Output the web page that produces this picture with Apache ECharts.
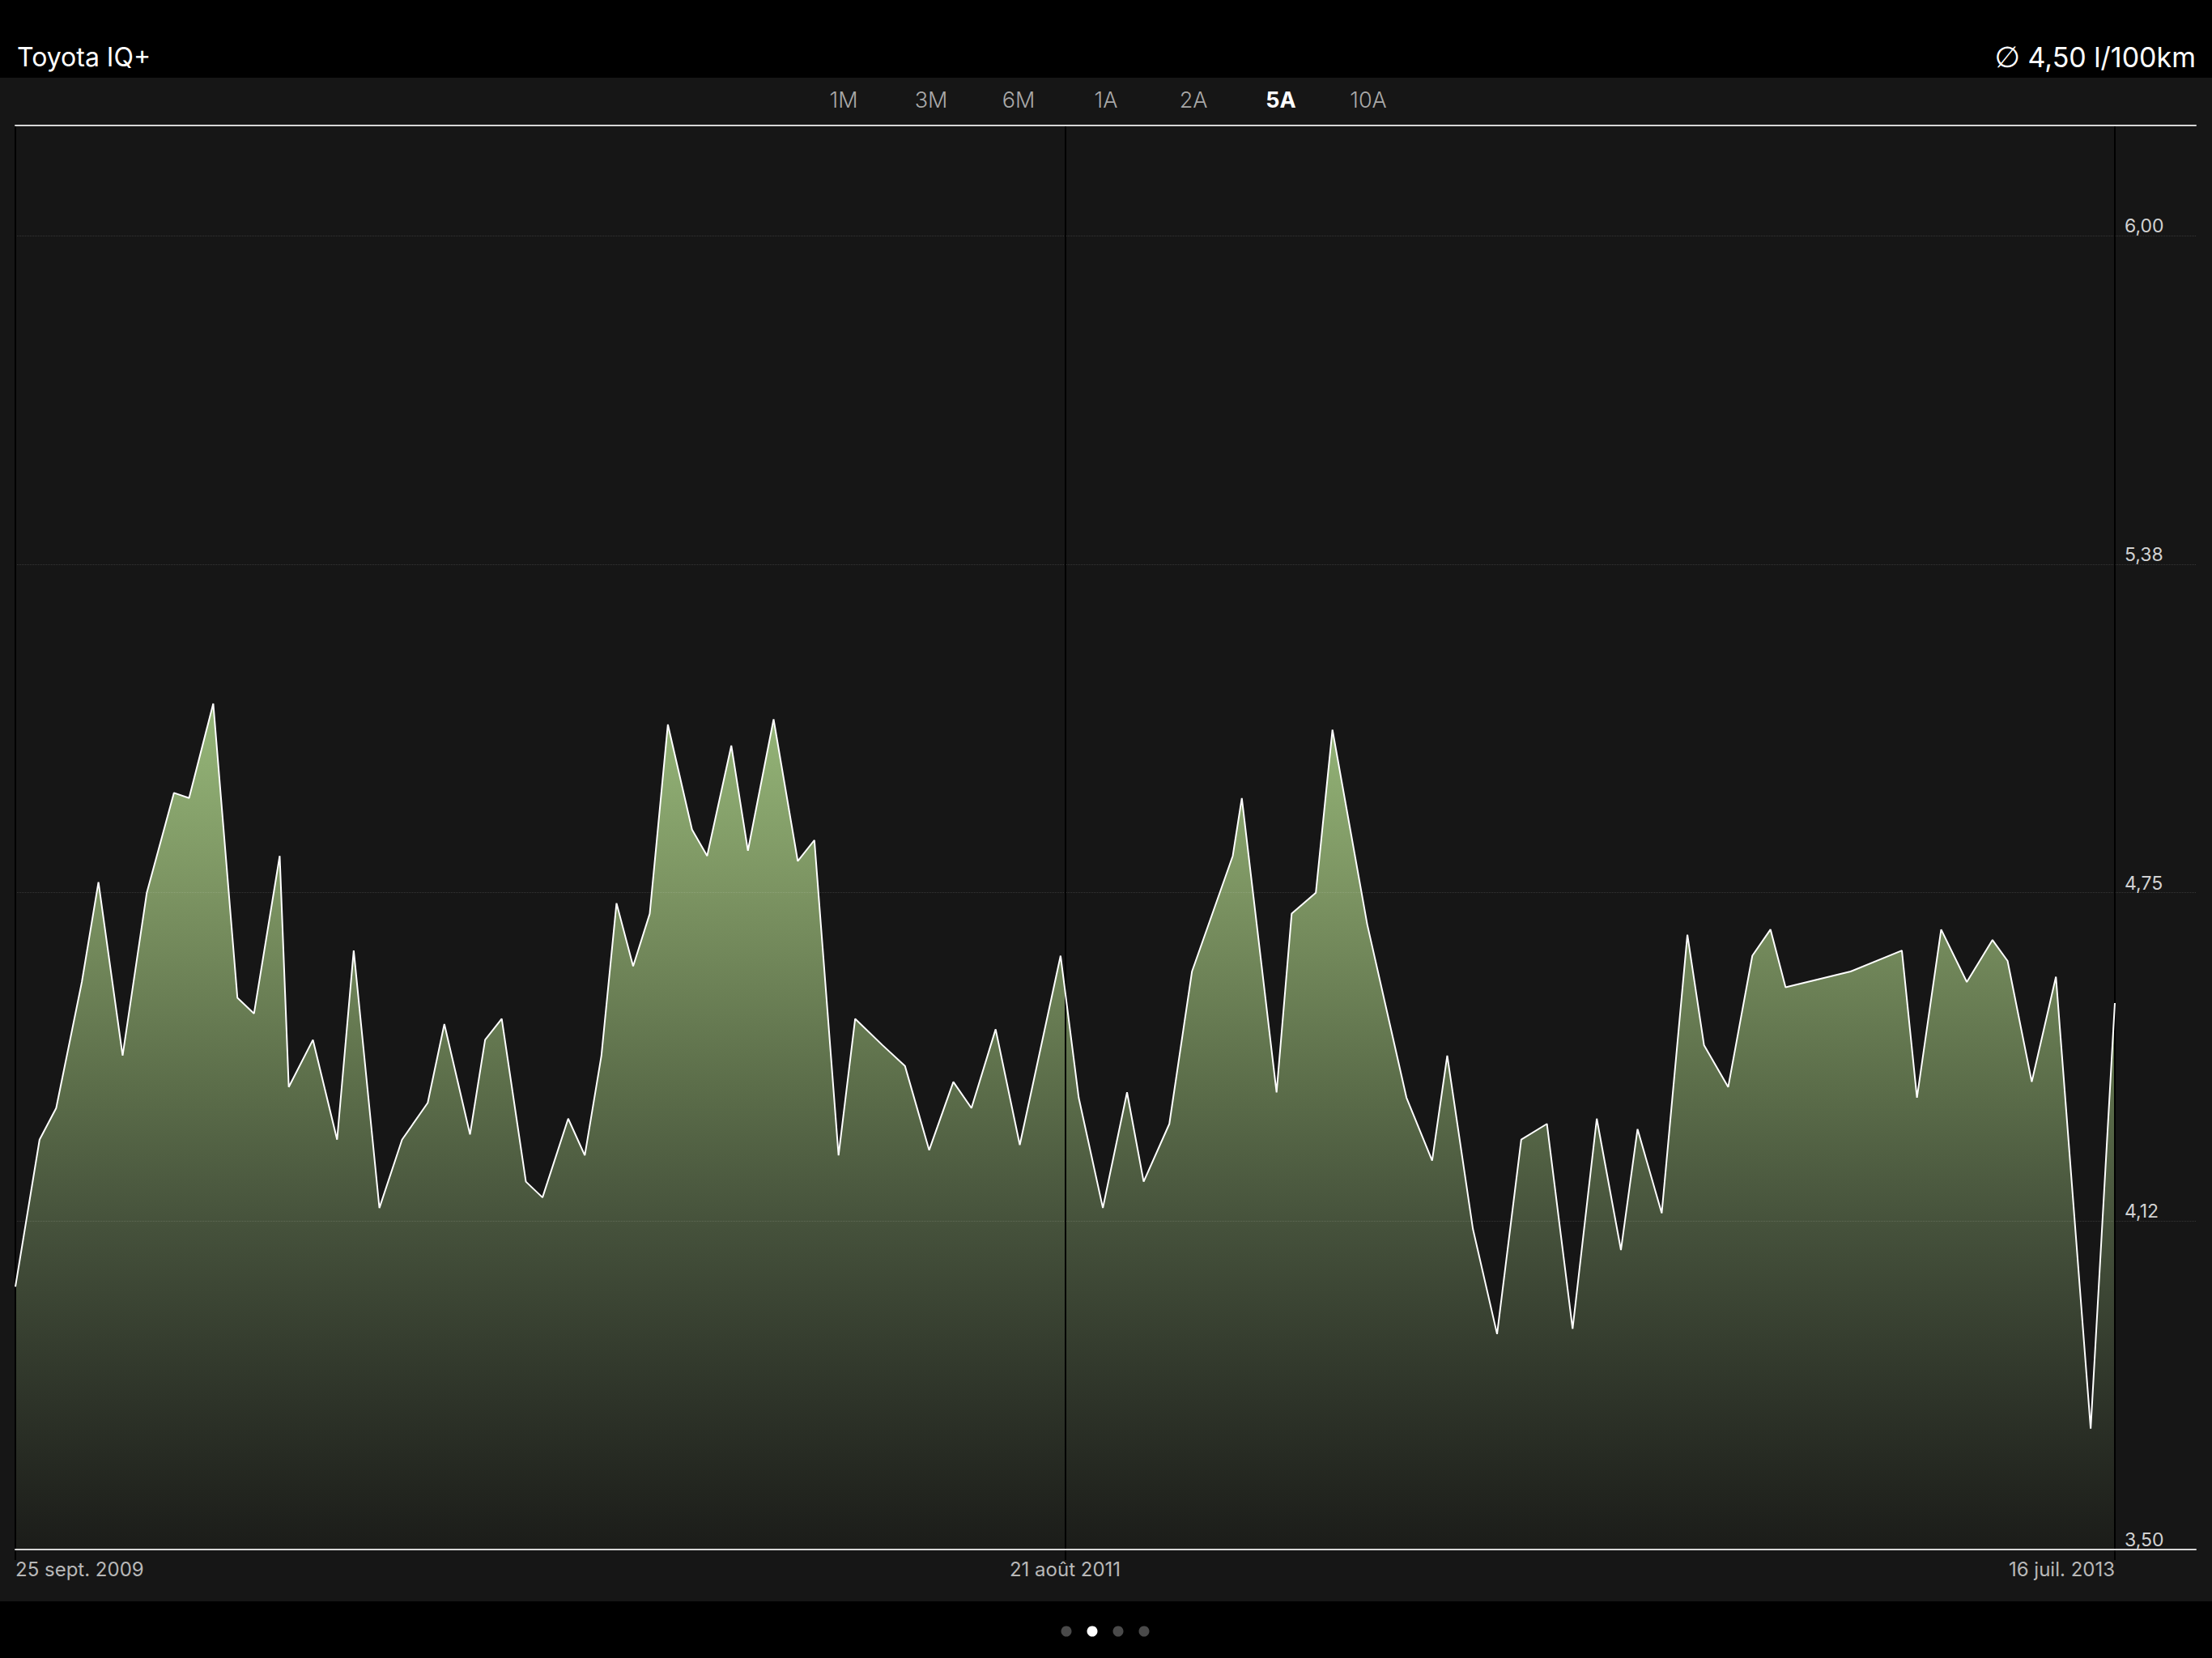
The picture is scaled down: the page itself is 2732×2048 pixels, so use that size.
<!DOCTYPE html>
<html>
<head>
<meta charset="utf-8">
<script src="https://cdn.jsdelivr.net/npm/echarts@6/dist/echarts.min.js"></script>
<style>
  html, body { margin: 0; padding: 0; background: #000; }
  #chart { width: 2732px; height: 2048px; }
</style>
</head>
<body>
<div id="chart"></div>
<script>
// ---- data ----
const title = 'Toyota IQ+';
const averageSymbol = '\u2205';
const averageText = '4,50 l/100km';
const periodTabs = ['1M', '3M', '6M', '1A', '2A', '5A', '10A'];
const activeTab = '5A';
// days since 25 sept. 2009
const dayOffsets = [0, 16, 27, 44, 55, 71, 87, 105, 115, 131, 147, 158, 175, 181, 197, 213, 224,
  241, 256, 273, 284, 301, 311, 322, 338, 349, 366, 377, 388, 398, 409, 420, 432, 448, 458,
  474, 485, 502, 518, 529, 545, 556, 574, 589, 605, 621, 633, 649, 665, 692, 704,
  720, 736, 747, 764, 779, 806, 812, 835, 845, 861, 872, 895, 921, 938,
  948, 965, 981, 997, 1014, 1031, 1047, 1063, 1074, 1090, 1107, 1118, 1134, 1150, 1162, 1172,
  1215, 1249, 1259, 1275, 1292, 1309, 1319, 1335, 1351, 1374, 1390];
// consumption, l/100km
const consumption = [4.00, 4.28, 4.34, 4.58, 4.77, 4.44, 4.75, 4.94, 4.93, 5.11, 4.55, 4.52, 4.82, 4.38, 4.47, 4.28, 4.64,
  4.15, 4.28, 4.35, 4.50, 4.29, 4.47, 4.51, 4.20, 4.17, 4.32, 4.25, 4.44, 4.73, 4.61, 4.71, 5.07, 4.87, 4.82,
  5.03, 4.83, 5.08, 4.81, 4.85, 4.25, 4.51, 4.46, 4.42, 4.26, 4.39, 4.34, 4.49, 4.27, 4.63, 4.36,
  4.15, 4.37, 4.20, 4.31, 4.60, 4.82, 4.93, 4.37, 4.71, 4.75, 5.06, 4.69, 4.36, 4.24,
  4.44, 4.11, 3.91, 4.28, 4.31, 3.92, 4.32, 4.07, 4.30, 4.14, 4.67, 4.46, 4.38, 4.63, 4.68, 4.57,
  4.60, 4.64, 4.36, 4.68, 4.58, 4.66, 4.62, 4.39, 4.59, 3.73, 4.54];
const xTickDays = [0, 695, 1390];
const xTickLabels = ['25 sept. 2009', '21 août 2011', '16 juil. 2013'];
const yMin = 3.5, yMax = 6.21, yStep = 0.625;
const yTickLabels = ['3,50', '4,12', '4,75', '5,38', '6,00'];

// ---- chart ----
const chart = echarts.init(document.getElementById('chart'), null, { renderer: 'svg' });
const seriesData = dayOffsets.map((d, i) => [d, consumption[i]]);
const FONT = 'Inter, Roboto, "Noto Sans", sans-serif';

const W = 2732;
const tabGraphics = periodTabs.map((t, i) => ({
  type: 'text',
  x: 1042 + i * 108,
  y: 123,
  style: {
    text: t,
    fill: t === activeTab ? '#ffffff' : '#a9a9a9',
    fontSize: 27,
    fontFamily: FONT,
    fontWeight: t === activeTab ? 'bold' : 300,
    align: 'center', verticalAlign: 'middle',
    textAlign: 'center', textVerticalAlign: 'middle'
  }
}));
const dotGraphics = [0, 1, 2, 3].map(i => ({
  type: 'circle',
  shape: { cx: 1317 + i * 32, cy: 2015, r: 6.5 },
  style: { fill: i === 1 ? '#ffffff' : '#4a4a4a' }
}));

const option = {
  backgroundColor: '#000000',
  animation: false,
  graphic: [
    { type: 'rect', z: -100, shape: { x: 0, y: 96, width: W, height: 1882 }, style: { fill: '#161616' } },
    { type: 'text', x: 21, y: 70, style: { text: title, fill: '#ffffff', fontSize: 32, fontFamily: FONT,
        align: 'left', verticalAlign: 'middle', textAlign: 'left', textVerticalAlign: 'middle' } },
    { type: 'text', x: 2712, y: 70, style: {
        text: '{sym|' + averageSymbol + '} ' + averageText,
        fill: '#ffffff', fontSize: 34, fontFamily: FONT,
        rich: { sym: { fontFamily: '"DejaVu Sans", sans-serif', fontSize: 36, fill: '#ffffff', color: '#ffffff' } },
        align: 'right', verticalAlign: 'middle', textAlign: 'right', textVerticalAlign: 'middle' } },
    ...tabGraphics,
    ...dotGraphics
  ],
  grid: [
    { left: 19, right: 120, top: 155, bottom: 134 },
    { left: 19, right: 20, top: 155, bottom: 134 }
  ],
  xAxis: [
    {
      gridIndex: 0, type: 'value', min: 0, max: 1390, interval: 695, z: 3,
      axisLine: { show: false },
      axisTick: { show: true, length: 13, lineStyle: { color: '#000000', width: 2 } },
      splitLine: { show: true, lineStyle: { color: '#000000', width: 2 } },
      axisLabel: {
        show: true, color: '#b8b8b8', fontSize: 24, fontFamily: FONT, margin: 12,
        alignMinLabel: 'left', alignMaxLabel: 'right',
        formatter: v => { const i = xTickDays.indexOf(Math.round(v)); return i >= 0 ? xTickLabels[i] : ''; }
      }
    },
    {
      gridIndex: 1, type: 'value', position: 'bottom', min: 0, max: 1, z: 5,
      axisLine: { show: true, lineStyle: { color: '#d6d6d6', width: 2 } },
      axisTick: { show: false }, axisLabel: { show: false }, splitLine: { show: false }
    },
    {
      gridIndex: 1, type: 'value', position: 'top', min: 0, max: 1, z: 5,
      axisLine: { show: true, lineStyle: { color: '#d6d6d6', width: 2 } },
      axisTick: { show: false }, axisLabel: { show: false }, splitLine: { show: false }
    }
  ],
  yAxis: [
    { gridIndex: 0, type: 'value', min: yMin, max: yMax, show: false },
    {
      gridIndex: 1, type: 'value', position: 'right', min: yMin, max: yMax, interval: yStep, z: 3,
      axisLine: { show: false }, axisTick: { show: false },
      splitLine: { show: true, showMinLine: false, showMaxLine: false,
        lineStyle: { color: 'rgba(255,255,255,0.14)', width: 1, type: 'dotted' } },
      axisLabel: {
        show: true, inside: true, margin: 88, align: 'left', color: '#d2d2d2', fontSize: 23, fontFamily: FONT,
        verticalAlign: 'bottom', lineHeight: 24,
        formatter: v => {
          const i = Math.round((v - yMin) / yStep);
          if (Math.abs(v - (yMin + i * yStep)) > 1e-6 || i >= yTickLabels.length) return '';
          return yTickLabels[i];
        }
      }
    }
  ],
  series: [
    {
      type: 'line', xAxisIndex: 0, yAxisIndex: 0, z: 1,
      data: seriesData, showSymbol: false, symbol: 'none',
      lineStyle: { width: 0, opacity: 0 },
      areaStyle: {
        origin: 'start',
        opacity: 1,
        color: new echarts.graphic.LinearGradient(0, 0, 0, 1, [
          { offset: 0, color: '#96b779' },
          { offset: 0.22, color: '#7c9462' },
          { offset: 0.45, color: '#5c6e4a' },
          { offset: 0.62, color: '#45513b' },
          { offset: 0.82, color: '#2e3429' },
          { offset: 1, color: '#1b1c19' }
        ])
      }
    },
    {
      type: 'line', xAxisIndex: 0, yAxisIndex: 0, z: 4,
      data: seriesData, showSymbol: false, symbol: 'none',
      lineStyle: { color: '#ffffff', width: 2 }
    }
  ]
};
chart.setOption(option);
</script>
</body>
</html>
